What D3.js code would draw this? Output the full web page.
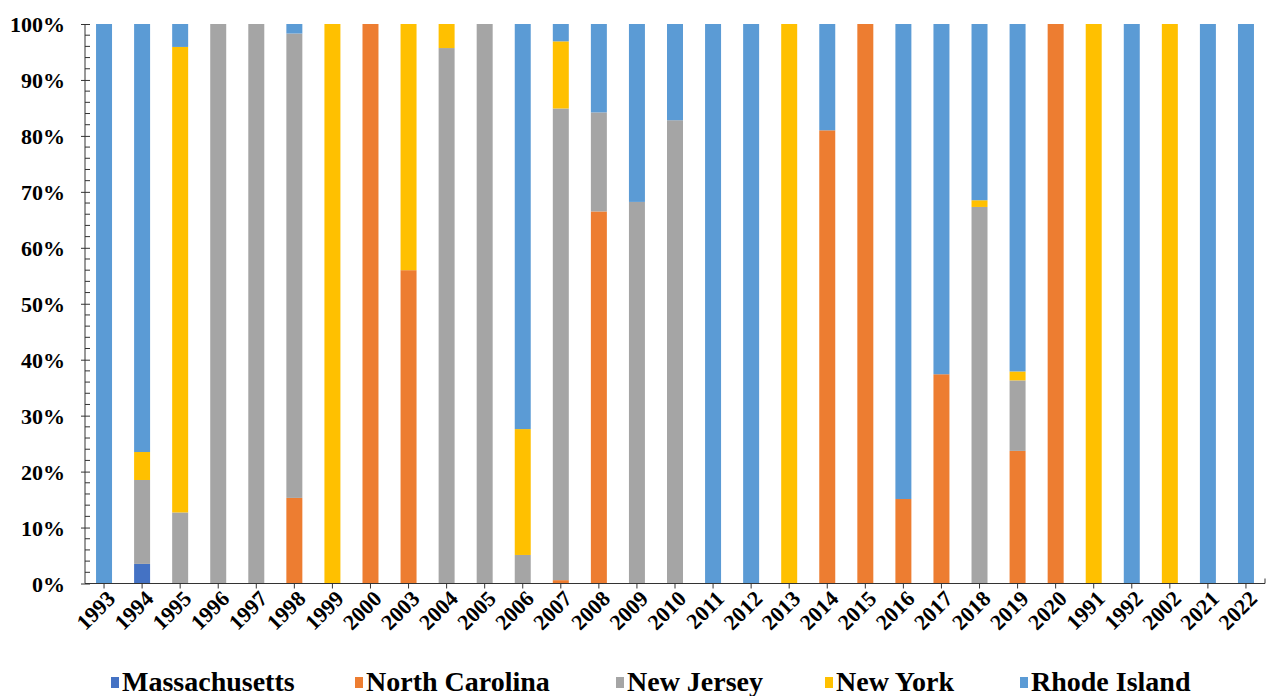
<!DOCTYPE html>
<html>
<head>
<meta charset="utf-8">
<script src="https://cdn.jsdelivr.net/npm/d3@7/dist/d3.min.js"></script>
<style>
  html, body { margin: 0; padding: 0; background: #fff; }
  svg { display: block; }
  text { font-family: "Liberation Serif", "Times New Roman", serif; font-weight: bold; fill: #000; }
</style>
</head>
<body>
<svg id="chart" width="1271" height="696"></svg>
<script>
const categories = ["1993","1994","1995","1996","1997","1998","1999","2000","2003","2004","2005","2006","2007","2008","2009","2010","2011","2012","2013","2014","2015","2016","2017","2018","2019","2020","1991","1992","2002","2021","2022"];
const seriesNames = ["Massachusetts","North Carolina","New Jersey","New York","Rhode Island"];
const massachusetts = [0,3.5,0,0,0,0,0,0,0,0,0,0,0,0,0,0,0,0,0,0,0,0,0,0,0,0,0,0,0,0,0];
const northCarolina = [0,0,0,0,0,15.3,0,100,56,0,0,0,0.6,66.5,0,0,0,0,0,81,100,15.1,37.4,0,23.7,100,0,0,0,0,0];
const newJersey     = [0,15,12.7,100,100,83,0,0,0,95.7,100,5.1,84.3,17.7,68.2,82.8,0,0,0,0,0,0,0,67.3,12.6,0,0,0,0,0,0];
const newYork       = [0,5,83.2,0,0,0,100,0,44,4.3,0,22.5,12,0,0,0,0,0,100,0,0,0,0,1.2,1.6,0,100,0,100,0,0];
const rhodeIsland   = [100,76.5,4.1,0,0,1.7,0,0,0,0,0,72.4,3.1,15.8,31.8,17.2,100,100,0,19,0,84.9,62.6,31.5,62.1,0,0,100,0,100,100];
const yTicks = [0,10,20,30,40,50,60,70,80,90,100];
const colors = ["#4472C4","#ED7D31","#A5A5A5","#FFC000","#5B9BD5"];

(function () {
const seriesValues = [massachusetts, northCarolina, newJersey, newYork, rhodeIsland];
const rows = categories.map((c, i) => {
  const r = { cat: c };
  seriesNames.forEach((s, j) => r[s] = seriesValues[j][i]);
  return r;
});

const svg = d3.select("#chart");
const pLeft = 85, pRight = 1265, pTop = 24, pBottom = 583.5;

const x = d3.scaleBand().domain(categories).range([pLeft, pRight]).paddingInner(0.58).paddingOuter(0.29);
const y = d3.scaleLinear().domain([0, 100]).range([pBottom, pTop]);

const stacked = d3.stack().keys(seriesNames)(rows);
const color = d3.scaleOrdinal().domain(seriesNames).range(colors);

svg.append("g").selectAll("g").data(stacked).join("g")
  .attr("fill", d => color(d.key))
  .selectAll("rect").data(d => d).join("rect")
  .attr("x", d => x(d.data.cat))
  .attr("width", x.bandwidth())
  .attr("y", d => y(d[1]))
  .attr("height", d => Math.max(0, y(d[0]) - y(d[1])));

// Y axis minor ticks
const minor = d3.range(0, 101, 2).filter(v => v % 10 !== 0);
const yg = svg.append("g").attr("transform", `translate(${pLeft},0)`);
yg.selectAll("line.minor").data(minor).join("line")
  .attr("class", "minor")
  .attr("x1", 0).attr("x2", 5)
  .attr("y1", d => y(d)).attr("y2", d => y(d))
  .attr("stroke", "#333").attr("stroke-width", 1);

const yAxis = d3.axisLeft(y).tickValues(yTicks).tickFormat(d => d + "%").tickSize(4).tickPadding(16);
yg.call(yAxis);
yg.selectAll(".tick line").attr("x2", -4).attr("x1", 5).attr("stroke", "#333");
yg.select(".domain").attr("stroke", "#333").attr("d", `M0,${pTop}V${pBottom}`);
yg.selectAll(".tick text").style("font-size", "22px").attr("dy", "0.35em")
  .style("font-family", "'Liberation Serif', serif").style("font-weight", "bold").attr("fill", "#000");

// X axis
const xAxis = d3.axisBottom(x).tickSize(5).tickSizeOuter(0);
const xg = svg.append("g").attr("transform", `translate(0,${pBottom})`).call(xAxis);
xg.select(".domain").attr("stroke", "#333").attr("d", `M${pLeft},0H${pRight}V-5`);
xg.selectAll(".tick line").attr("stroke", "#333");
xg.selectAll(".tick text")
  .style("font-size", "22px").style("font-family", "'Liberation Serif', serif").style("font-weight", "bold")
  .attr("fill", "#000")
  .attr("text-anchor", "end")
  .attr("dy", null)
  .attr("transform", "translate(9,13) rotate(-45)")
  .attr("x", 0).attr("y", 0)
  .attr("dominant-baseline", "middle");

// Legend
const legendX = [122, 366, 627, 836, 1031];
const lg = svg.append("g");
seriesNames.forEach((s, i) => {
  const g = lg.append("g").attr("transform", `translate(${legendX[i]},0)`);
  g.append("rect").attr("x", -11).attr("y", 677).attr("width", 8).attr("height", 11).attr("fill", colors[i]);
  g.append("text").attr("x", 0).attr("y", 691).style("font-size", "28px").text(s);
});
})();
</script>
</body>
</html>
